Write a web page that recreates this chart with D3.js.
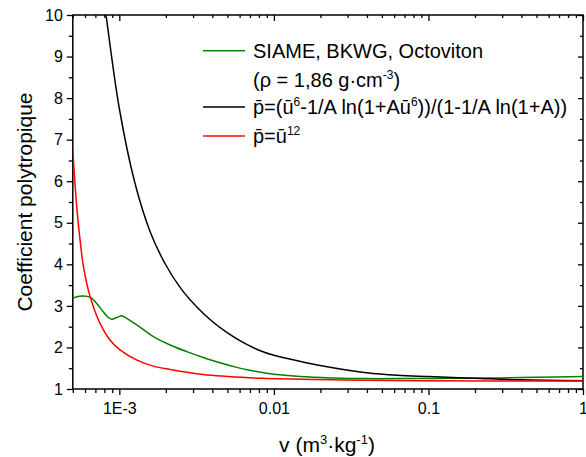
<!DOCTYPE html>
<html><head><meta charset="utf-8">
<script src="https://cdn.jsdelivr.net/npm/d3@7"></script>
<style>body{margin:0;background:#fff}svg{display:block}text{font-family:"Liberation Sans",Arial,sans-serif;fill:#000}</style>
</head><body>
<script>
// ---- data ----
const xTickValues = [1e-3, 1e-2, 1e-1, 1];
const xTickLabels = ["1E-3", "0.01", "0.1", "1"];
const yTickValues = [1, 2, 3, 4, 5, 6, 7, 8, 9, 10];

const greenV = [5.0e-4, 5.3e-4, 5.85e-4, 6.46e-4, 7.14e-4, 7.87e-4, 8.49e-4, 8.93e-4, 9.62e-4, 1.035e-3, 1.116e-3, 1.29e-3, 1.66e-3, 2.13e-3, 2.73e-3, 3.49e-3, 4.48e-3, 5.74e-3, 7.0e-3, 8.97e-3, 1.48e-2, 2.42e-2, 3.98e-2, 6.53e-2, 0.18, 0.29, 0.5, 1];
const greenP = [3.18, 3.22, 3.24, 3.21, 3.06, 2.86, 2.72, 2.68, 2.72, 2.76, 2.70, 2.55, 2.26, 2.06, 1.90, 1.76, 1.63, 1.52, 1.45, 1.38, 1.30, 1.265, 1.25, 1.25, 1.26, 1.265, 1.28, 1.30];

const blackV = [7.41e-4, 8.2e-4, 1.0e-3, 1.259e-3, 1.585e-3, 1.995e-3, 2.512e-3, 3.162e-3, 3.981e-3, 5.012e-3, 6.31e-3, 7.943e-3, 1.0e-2, 1.585e-2, 2.512e-2, 3.981e-2, 6.31e-2, 0.1, 0.1995, 0.398, 1];
const blackP = [11.2, 10.0, 7.75, 5.97, 4.78, 3.99, 3.41, 2.98, 2.63, 2.35, 2.12, 1.94, 1.81, 1.64, 1.50, 1.39, 1.33, 1.30, 1.26, 1.22, 1.20];

const redV = [5.0e-4, 5.3e-4, 5.57e-4, 5.85e-4, 6.3e-4, 6.79e-4, 7.5e-4, 8.7e-4, 1.01e-3, 1.29e-3, 1.66e-3, 2.13e-3, 3.49e-3, 7.0e-3, 8.97e-3, 2.42e-2, 8.8e-2, 1];
const redP = [6.75, 5.39, 4.59, 3.96, 3.38, 2.98, 2.58, 2.18, 1.94, 1.70, 1.55, 1.47, 1.35, 1.27, 1.255, 1.22, 1.20, 1.19];

// ---- layout ----
const W = 586, H = 457;
const L = 72.8, R = 583, T = 15, B = 389;
const svg = d3.select("body").append("svg").attr("width", W).attr("height", H);

const x = d3.scaleLog().domain([5e-4, 1]).range([L, R]);
const y = d3.scaleLinear().domain([1, 10]).range([B, T]);

const xMinor = [];
for (let e = -4; e <= -1; e++) for (let m = 2; m <= 9; m++) { const v = m * Math.pow(10, e); if (v > 5e-4 - 1e-12 && v < 1) xMinor.push(v); }
const yMinor = d3.range(1.5, 10, 1);

svg.append("defs").append("clipPath").attr("id", "clip")
  .append("rect").attr("x", L).attr("y", T).attr("width", R - L).attr("height", B - T);

// bottom (outward)
svg.append("g").attr("transform", `translate(0,${B})`)
  .call(d3.axisBottom(x).tickValues(xTickValues).tickFormat((d, i) => xTickLabels[i]).tickSize(6).tickPadding(8));
svg.append("g").attr("transform", `translate(0,${B})`)
  .call(d3.axisBottom(x).tickValues(xMinor).tickFormat("").tickSize(4));
// left (outward)
svg.append("g").attr("transform", `translate(${L},0)`)
  .call(d3.axisLeft(y).tickValues(yTickValues).tickFormat(d3.format("d")).tickSize(6).tickPadding(4));
svg.append("g").attr("transform", `translate(${L},0)`)
  .call(d3.axisLeft(y).tickValues(yMinor).tickFormat("").tickSize(4));
// top (inward)
svg.append("g").attr("transform", `translate(0,${T})`)
  .call(d3.axisBottom(x).tickValues(xTickValues).tickFormat("").tickSize(6));
svg.append("g").attr("transform", `translate(0,${T})`)
  .call(d3.axisBottom(x).tickValues(xMinor).tickFormat("").tickSize(3));
// right (inward)
svg.append("g").attr("transform", `translate(${R},0)`)
  .call(d3.axisLeft(y).tickValues(yTickValues).tickFormat("").tickSize(5));
svg.append("g").attr("transform", `translate(${R},0)`)
  .call(d3.axisLeft(y).tickValues(yMinor).tickFormat("").tickSize(3));

svg.selectAll(".domain").remove();
svg.selectAll(".tick line").attr("stroke", "#000").attr("stroke-width", 1.3);
svg.selectAll(".tick text").style("font-size", "16px").attr("fill", "#000");
svg.append("rect").attr("x", L).attr("y", T).attr("width", R - L).attr("height", B - T)
  .attr("fill", "none").attr("stroke", "#000").attr("stroke-width", 1.5);

// curves
const line = d3.line().x(d => x(d[0])).y(d => y(d[1])).curve(d3.curveCatmullRom.alpha(0.5));
const plot = svg.append("g").attr("clip-path", "url(#clip)");
const series = [
  { v: greenV, p: greenP, c: "#008000" },
  { v: blackV, p: blackP, c: "#000000" },
  { v: redV, p: redP, c: "#ff0000" }
];
series.forEach(s => {
  plot.append("path").datum(s.v.map((v, i) => [v, s.p[i]]))
    .attr("d", line).attr("fill", "none").attr("stroke", s.c).attr("stroke-width", 1.5);
});

// axis titles
const xt = svg.append("text").attr("x", 327).attr("y", 452).attr("text-anchor", "middle").style("font-size", "21px");
xt.append("tspan").text("v (m");
xt.append("tspan").attr("dy", -8).style("font-size", "13px").text("3");
xt.append("tspan").attr("dy", 8).text("\u00B7kg");
xt.append("tspan").attr("dy", -8).style("font-size", "13px").text("-1");
xt.append("tspan").attr("dy", 8).text(")");

svg.append("text").attr("transform", `translate(32,${(T + B) / 2}) rotate(-90)`)
  .attr("text-anchor", "middle").style("font-size", "21px").text("Coefficient polytropique");

// legend
const lg = svg.append("g");
const lx1 = 203, lx2 = 245, tx = 253;
const rows = [
  { yl: 50.7, c: "#008000", parts: [["SIAME, BKWG, Octoviton", 0]] },
  { yl: null, yb: 86.5, parts: [["(\u03C1 = 1,86 g\u00B7cm", 0], ["-3", 1], [")", 0]] },
  { yl: 107, c: "#000000", parts: [["p\u0304=(\u016B", 0], ["6", 1], ["-1/A ln(1+A\u016B", 0], ["6", 1], ["))/(1-1/A ln(1+A))", 0]] },
  { yl: 136, c: "#ff0000", parts: [["p\u0304=\u016B", 0], ["12", 1]] }
];
rows.forEach(r => {
  if (r.yl !== null) {
    lg.append("line").attr("x1", lx1).attr("x2", lx2).attr("y1", r.yl).attr("y2", r.yl)
      .attr("stroke", r.c).attr("stroke-width", 1.5);
  }
  const yb = r.yl !== null ? r.yl + 7 : r.yb;
  const t = lg.append("text").attr("x", tx).attr("y", yb).style("font-size", "20px");
  let up = false;
  r.parts.forEach(([s, sup]) => {
    const ts = t.append("tspan").text(s);
    if (sup && !up) { ts.attr("dy", -8).style("font-size", "12px"); up = true; }
    else if (!sup && up) { ts.attr("dy", 8); up = false; }
  });
});
</script>
</body></html>
